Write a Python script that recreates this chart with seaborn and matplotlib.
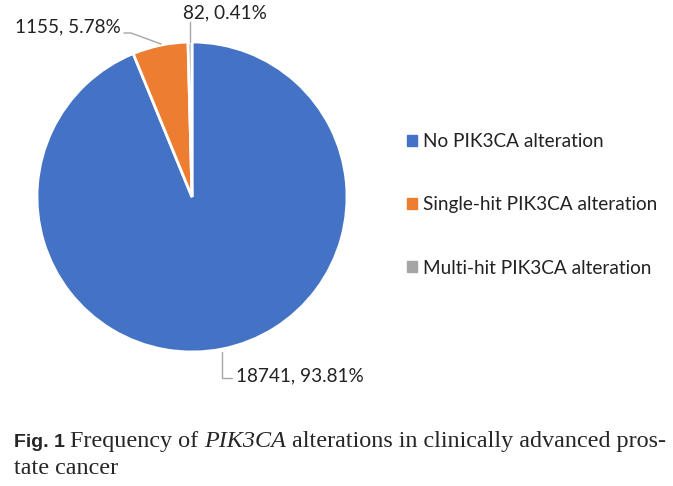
import matplotlib
matplotlib.use("Agg")
import matplotlib.pyplot as plt
import seaborn as sns

categories = ["No PIK3CA alteration", "Single-hit PIK3CA alteration", "Multi-hit PIK3CA alteration"]
counts = [18741, 1155, 82]
percents = [93.81, 5.78, 0.41]
colors = ["#4472C4", "#ED7D31", "#A5A5A5"]

sns.set_theme(style="white")
plt.rcParams['font.family'] = ['Lato', 'DejaVu Sans']

W, H = 673, 486
fig = plt.figure(figsize=(W / 100, H / 100), dpi=100)
cx, cy, r = 192, 197, 155
ax = fig.add_axes([(cx - r) / W, (H - cy - r) / H, 2 * r / W, 2 * r / H])
wedges, _ = ax.pie(counts, colors=colors, startangle=90, counterclock=False,
                   wedgeprops=dict(edgecolor="white", linewidth=2))
ax.set_xlim(-1, 1)
ax.set_ylim(-1, 1)
ax.set_aspect("equal")
ax.axis("off")

def d(px, py):
    return ((px - cx) / r, (cy - py) / r)

labels = [f"{c}, {p:.2f}%" for c, p in zip(counts, percents)]
lc = "#A6A6A6"
fs = 13.7
# No alteration (bottom)
ax.plot(*zip(d(222, 352), d(222, 378), d(232, 378)), color=lc, lw=1, clip_on=False)
ax.text(*d(236, 376), labels[0], fontsize=fs, ha="left", va="center", color="#222222")
# Single-hit (upper left)
ax.plot(*zip(d(161, 44), d(131, 33), d(124, 33)), color=lc, lw=1, clip_on=False)
ax.text(*d(121, 27), labels[1], fontsize=fs, ha="right", va="center", color="#222222")
# Multi-hit (top)
ax.plot(*zip(d(190, 42), d(190, 22)), color=lc, lw=1, clip_on=False)
ax.text(*d(183, 13), labels[2], fontsize=fs, ha="left", va="center", color="#222222")

# Legend
handles = [plt.Rectangle((0, 0), 1, 1, color=c) for c in colors]
fig.legend(handles, categories, loc="upper left", bbox_to_anchor=(390 / W, 1 - 116 / H),
           frameon=False, fontsize=fs, handlelength=0.5, handleheight=0.5,
           handletextpad=0.35, labelspacing=2.43, labelcolor="#222222")

# Caption with mixed fonts
fig.canvas.draw()
renderer = fig.canvas.get_renderer()
cap_fs = 17.4
serif = ['Liberation Serif', 'DejaVu Serif']
def put(x, y, s, fs=cap_fs, **kw):
    t = fig.text(x / W, 1 - y / H, s, fontsize=fs, va="baseline", ha="left", **kw)
    bb = t.get_window_extent(renderer=renderer)
    return x + bb.width
y1 = 447
put(14, y1, "Fig. 1", fs=14, family=['Liberation Sans', 'DejaVu Sans'], weight="bold")
x = put(70, y1, "Frequency of ", family=serif)
x = put(x, y1, "PIK3CA", family=serif, style="italic")
x = put(x, y1, " alterations in clinically advanced pros-", family=serif)
put(14, 474, "tate cancer", family=serif)

fig.savefig("out.png", dpi=100)
